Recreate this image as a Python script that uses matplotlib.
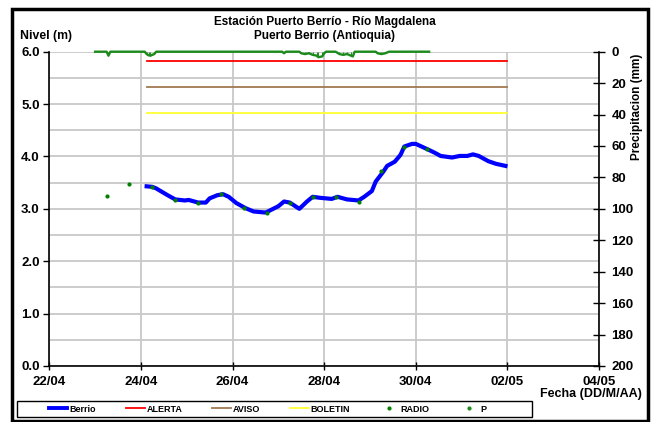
import numpy as np
import pandas as pd
import matplotlib
matplotlib.use("Agg")
import matplotlib.pyplot as plt
import matplotlib.dates as mdates
from matplotlib.patches import Rectangle
from matplotlib.lines import Line2D

plt.rcParams['font.family'] = ['Liberation Sans', 'DejaVu Sans']
plt.rcParams['font.weight'] = 'bold'

base = pd.Timestamp("2011-04-22 00:00")

# nivel Berrio (horas desde 22/04 00:00, m)
berrio_h = [51, 54, 56, 62, 66, 71, 73, 78, 82, 84, 88, 91, 94, 98, 103, 107, 113, 114,
            120, 123, 126, 131, 135, 138, 142, 148, 151, 156, 162, 165, 169, 171, 175,
            177, 181, 184, 186, 190, 192, 198, 202, 205, 211, 215, 219, 222, 225, 230,
            234, 239]
berrio = [3.43, 3.42, 3.39, 3.26, 3.18, 3.16, 3.17, 3.12, 3.12, 3.20, 3.26, 3.28, 3.23,
          3.11, 3.01, 2.95, 2.93, 2.94, 3.05, 3.14, 3.12, 3.00, 3.14, 3.23, 3.21, 3.19,
          3.23, 3.18, 3.16, 3.23, 3.34, 3.52, 3.71, 3.82, 3.90, 4.03, 4.19, 4.24, 4.24,
          4.14, 4.07, 4.01, 3.98, 4.01, 4.01, 4.04, 4.01, 3.91, 3.86, 3.82]

# lecturas de radio (06h y 18h)
radio_h = [30, 42, 54, 66, 78, 90, 102, 114, 126, 138, 150, 162, 174, 186, 198]
radio = [3.24, 3.48, 3.42, 3.17, 3.12, 3.28, 3.01, 2.93, 3.12, 3.23, 3.22, 3.14, 3.72,
         4.18, 4.14]

# umbrales
umbral_h = [51, 240]
alerta = 5.83
aviso = 5.33
boletin = 4.83

# precipitacion (mm)
p_h = [24, 30, 31, 32, 50, 51, 52, 53, 55, 56, 122, 123, 124, 131, 132, 134, 136, 138,
       140, 141, 143, 144, 145, 150, 152, 154, 156, 158, 159, 160, 171, 172, 174, 176,
       178, 199]
p_mm = [0, 0, 2.5, 0, 0, 1.5, 2.3, 2.5, 1.5, 0, 0, 1.0, 0, 0, 1.0, 1.5, 1.0, 2.0,
        2.5, 3.5, 3.0, 1.0, 0, 0, 1.5, 2.0, 1.5, 2.5, 3.0, 0, 0, 1.0, 1.5, 1.0,
        0, 0]


def to_dates(hours):
    return base + pd.to_timedelta(hours, unit='h')


W, H = 654, 422
fig = plt.figure(figsize=(W / 100, H / 100), dpi=100)
x0, x1, y0, y1 = 49.3, 599, 51.7, 366
ax = fig.add_axes([x0 / W, 1 - y1 / H, (x1 - x0) / W, (y1 - y0) / H])

xmin, xmax = base, base + pd.Timedelta(days=12)
ax.set_xlim(xmin, xmax)
ax.set_ylim(0, 6)
xt = pd.date_range(xmin, xmax, freq='2D')
ax.set_xticks(xt)
ax.xaxis.set_major_formatter(mdates.DateFormatter('%d/%m'))
ax.set_yticks(np.arange(0, 6.01, 1.0))
ax.set_yticks(np.arange(0, 6.01, 0.5), minor=True)
ax.yaxis.set_major_formatter(matplotlib.ticker.FormatStrFormatter('%.1f'))
ax.grid(True, which='both', axis='y', color='#c8c8c8', lw=1.3)
ax.grid(True, which='major', axis='x', color='#c8c8c8', lw=1.3)
ax.set_axisbelow(True)
ax.tick_params(axis='y', which='major', direction='out', length=4, width=1, labelsize=9.5, pad=3)
ax.tick_params(axis='y', which='minor', length=0)
ax.tick_params(axis='x', direction='inout', length=6, width=1, labelsize=9.5, pad=4)
for s in ['top', 'right']:
    ax.spines[s].set_visible(False)
for s in ['left', 'bottom']:
    ax.spines[s].set_linewidth(1.2)

ax.plot(to_dates(umbral_h), [alerta] * 2, color='#ff0000', lw=1.3)
ax.plot(to_dates(umbral_h), [aviso] * 2, color='#a07850', lw=1.3)
ax.plot(to_dates(umbral_h), [boletin] * 2, color='#ffff33', lw=1.3)
ax.plot(to_dates(berrio_h), berrio, color='#0000ff', lw=3.0, zorder=4)
ax.plot(to_dates(radio_h), radio, ls='none', marker='o', ms=2.0, color='#008000', zorder=5)

ax2 = ax.twinx()
ax2.set_ylim(200, 0)
ax2.set_yticks(np.arange(0, 201, 20))
ax2.tick_params(axis='y', direction='inout', length=8, width=1, labelsize=9.5, pad=5)
for s in ['top', 'left', 'bottom']:
    ax2.spines[s].set_visible(False)
ax2.spines['right'].set_linewidth(1.2)
pd_dates = to_dates(p_h)
ax2.vlines(pd_dates, 0, p_mm, color='#2a8a2a', lw=0.8, clip_on=False)
ax2.plot(pd_dates, p_mm, color='#1a8a1a', lw=1.7, clip_on=False)

for lab in ax.get_xticklabels() + ax.get_yticklabels() + ax2.get_yticklabels():
    lab.set_fontweight('bold')

fig.text(325 / W, 1 - 22 / H, 'Estación Puerto Berrío - Río Magdalena', ha='center',
         va='center', fontsize=8.5, fontweight='bold')
fig.text(325 / W, 1 - 36 / H, 'Puerto Berrio (Antioquia)', ha='center', va='center',
         fontsize=8.5, fontweight='bold')
fig.text(20 / W, 1 - 36 / H, 'Nivel (m)', ha='left', va='center', fontsize=8.8,
         fontweight='bold')
fig.text(591 / W, 1 - 394 / H, 'Fecha (DD/M/AA)', ha='center', va='center', fontsize=9.0,
         fontweight='bold')
fig.text(637 / W, 1 - 107 / H, 'Precipitacion (mm)', ha='center', va='center',
         rotation=90, fontsize=8.5, fontweight='bold')

handles = [
    Line2D([], [], color='#0000ff', lw=2.8),
    Line2D([], [], color='#ff0000', lw=1.3),
    Line2D([], [], color='#a07850', lw=1.3),
    Line2D([], [], color='#ffff33', lw=1.3),
    Line2D([], [], ls='none', marker='o', ms=2, color='#008000'),
    Line2D([], [], ls='none', marker='o', ms=2, color='#1a8a1a'),
]
labels = ['Berrio', 'ALERTA', 'AVISO', 'BOLETIN', 'RADIO', 'P']
leg = fig.legend(handles, labels, loc='center left', ncol=6,
                 bbox_to_anchor=(44 / W, 1 - 409 / H),
                 fontsize=6.5, frameon=False, handlelength=2.1,
                 handletextpad=0.2, borderpad=0.0, columnspacing=3.3)
for t in leg.get_texts():
    t.set_fontweight('bold')

fig.patches.append(Rectangle((17 / W, 1 - 417 / H), 515 / W, 16 / H, transform=fig.transFigure,
                             fill=False, edgecolor='black', lw=1.0))
fig.patches.append(Rectangle((12 / W, 1 - 421 / H), 636 / W, 412 / H, transform=fig.transFigure,
                             fill=False, edgecolor='black', lw=2.5))

fig.savefig('out.png', dpi=100)
